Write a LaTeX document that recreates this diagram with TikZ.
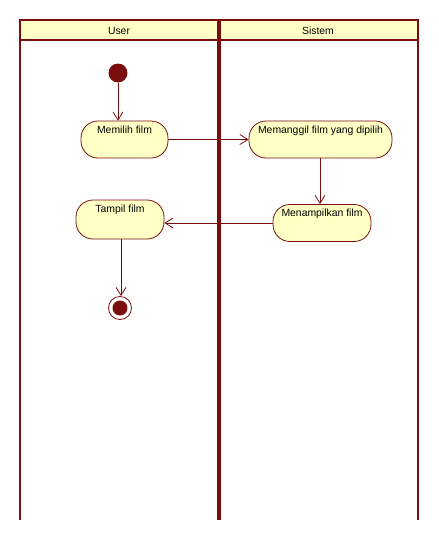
\documentclass[tikz,border=0pt]{standalone}
\usepackage{fontspec}
\setmainfont{Liberation Sans}
\usetikzlibrary{arrows.meta}
\definecolor{umlline}{HTML}{7A0E0E}
\definecolor{umlfill}{HTML}{FFFFC6}
\begin{document}
\begin{tikzpicture}[x=1pt,y=-1pt,
  act/.style={draw=umlline, fill=umlfill, line width=0.8pt, rounded corners=17pt,
    inner xsep=0pt, inner ysep=1.5pt, text height=10.5pt, text depth=23.5pt,
    font=\fontsize{10.4}{12}\selectfont},
  flow/.style={draw=umlline, line width=0.8pt, -{Straight Barb[length=8pt,width=10pt,line width=0.8pt]}},
  lane/.style={draw=umlline, line width=2pt},
  head/.style={font=\fontsize{10.4}{12}\selectfont}
]
\useasboundingbox (0,0) rectangle (439,539);
% swimlanes
\fill[umlfill] (20,20) rectangle (418,40);
\draw[lane] (20,520) -- (20,20) -- (418,20) -- (418,520);
\draw[lane] (20,40) -- (418,40);
\draw[draw=umlline, line width=4pt] (219,20) -- (219,520);
\node[head] (huser) at (119,31) {User};
\node[head] (hsis) at (318,31) {Sistem};
% nodes
\node[circle, fill=umlline, minimum size=19pt, inner sep=0pt] (start) at (118,73) {};
\node[act, minimum width=87pt] (pilih) at (124.5,139.5) {Memilih film};
\node[act, minimum width=143pt] (panggil) at (320.5,139.5) {Memanggil film yang dipilih};
\node[act, minimum width=98pt] (tampilkan) at (322,223) {Menampilkan film};
\node[act, minimum width=88pt, text depth=25.5pt] (tampil) at (120,219.5) {Tampil film};
\node[circle, draw=umlline, line width=0.8pt, fill=white, minimum size=23pt, inner sep=0pt] (end) at (120,308) {};
\node[circle, fill=umlline, minimum size=15pt, inner sep=0pt] (endin) at (end.center) {};
% flows
\draw[flow] (start) -- (start |- pilih.north);
\draw[flow] (pilih.east) -- (panggil.west);
\draw[flow] (panggil.south -| 320,0) -- (tampilkan.north -| 320,0);
\draw[flow] (tampilkan.west) -- (tampil.east |- tampilkan.west);
\draw[flow] (tampil.south -| 121,0) -- (end.north -| 121,0);
\end{tikzpicture}
\end{document}
